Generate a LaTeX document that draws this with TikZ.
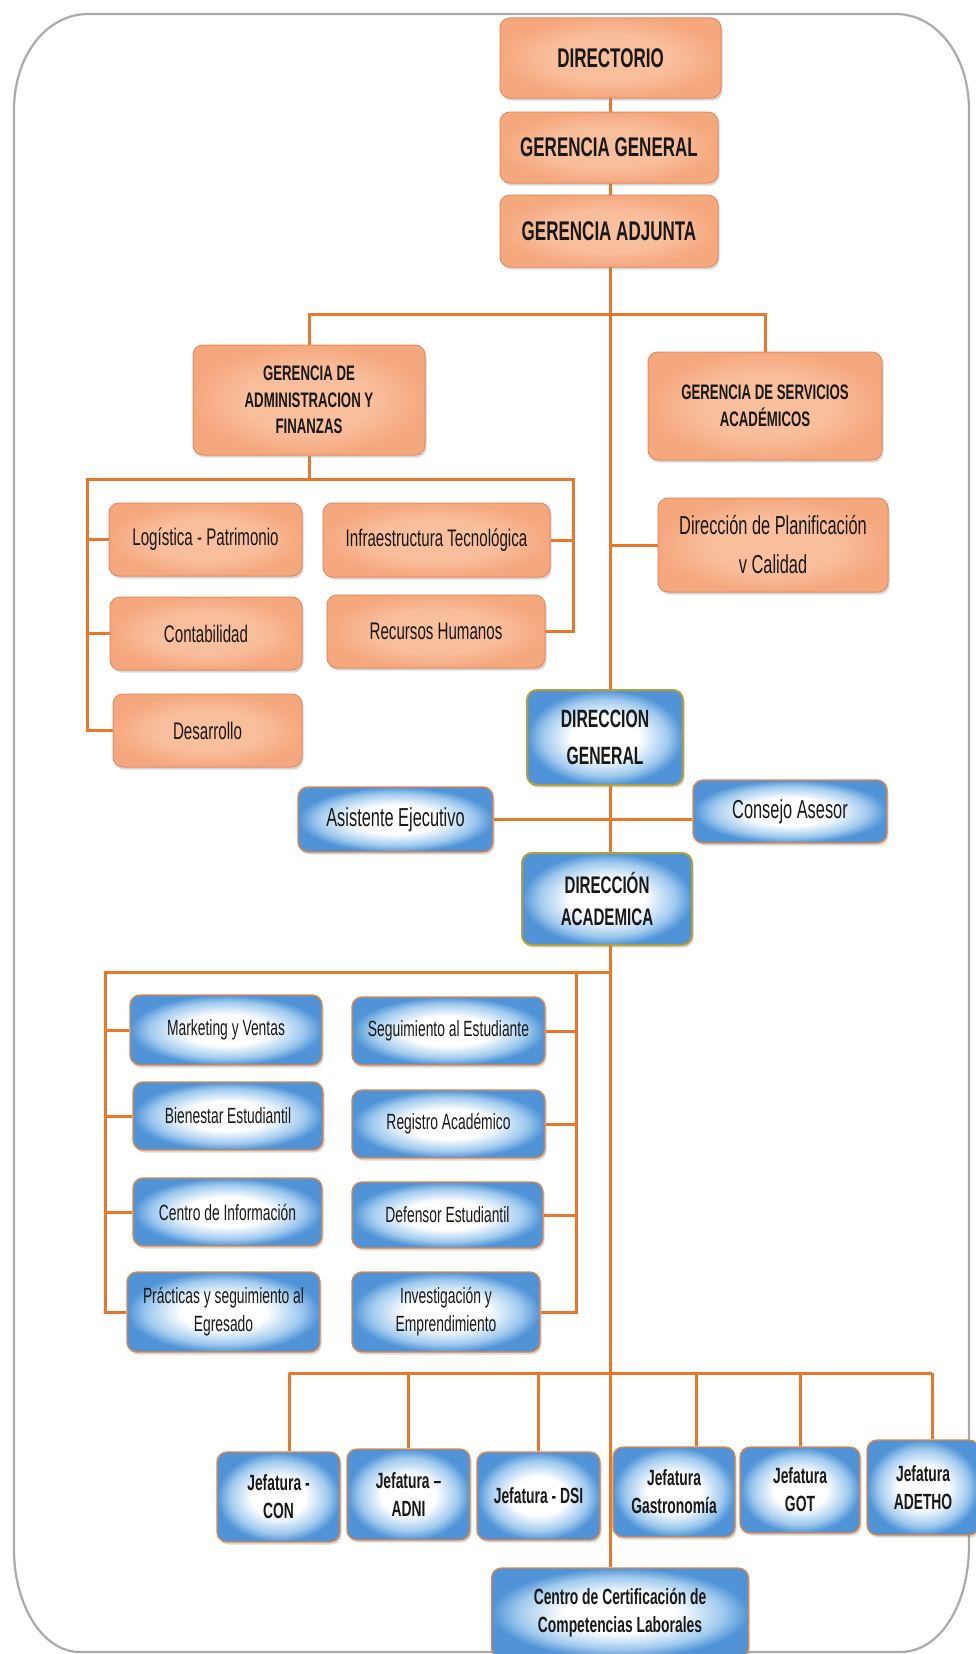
\documentclass[tikz,border=0pt]{standalone}
\usepackage{fontspec}
\setmainfont{Liberation Sans}[FakeStretch=0.63]
\usetikzlibrary{shadows,backgrounds}
\definecolor{conncol}{RGB}{234,118,40}
\definecolor{salmon}{RGB}{245,168,126}
\definecolor{salmonlt}{RGB}{249,190,156}
\definecolor{salmonbd}{RGB}{232,138,96}
\definecolor{bluedk}{RGB}{80,148,215}
\definecolor{bluemd}{RGB}{160,202,238}
\definecolor{bluebd}{RGB}{232,132,66}
\definecolor{olivebd}{RGB}{178,160,60}
\definecolor{framecol}{RGB}{170,170,170}
\definecolor{txt}{RGB}{24,24,24}
\pgfdeclareradialshading{blueshade}{\pgfpoint{0bp}{0bp}}{color(0bp)=(white); color(11bp)=(white); color(20bp)=(bluemd); color(25bp)=(bluedk); color(50bp)=(bluedk)}
\pgfdeclareradialshading{salmonshade}{\pgfpoint{0bp}{0bp}}{color(0bp)=(salmonlt); color(14bp)=(salmonlt); color(25bp)=(salmon); color(50bp)=(salmon)}
\tikzset{
  box/.style={rectangle, rounded corners=10pt, align=center, inner sep=2pt, text=txt,
    drop shadow={shadow xshift=1.5pt, shadow yshift=-2.5pt, opacity=0.3}},
  obox/.style={box, draw=salmonbd, line width=1pt, shade, shading=salmonshade},
  bbox/.style={box, draw=bluebd, line width=1.3pt, shade, shading=blueshade},
  kbox/.style={box, draw=olivebd, line width=2pt, shade, shading=blueshade},
  conn/.style={draw=conncol, line width=3pt},
  tA/.style={font=\fontsize{27}{32}\selectfont\bfseries},
  tB/.style={font=\fontsize{21}{26.5}\selectfont\bfseries},
  tC/.style={font=\fontsize{24}{28}\selectfont},
  tD/.style={font=\fontsize{26}{39}\selectfont},
  tE/.style={font=\fontsize{25}{37}\selectfont\bfseries},
  tF/.style={font=\fontsize{24}{32}\selectfont\bfseries},
  tG/.style={font=\fontsize{22}{28}\selectfont},
  tH/.style={font=\fontsize{22}{28}\selectfont\bfseries},
}
\begin{document}
\begin{tikzpicture}[x=1pt,y=-1pt]
\useasboundingbox (0,0) rectangle (975,1654);
% top group
\node[obox,tA,minimum width=221pt,minimum height=80pt] (dir) at (610.5,58) {DIRECTORIO};
\node[obox,tA,minimum width=218pt,minimum height=71pt] (gg) at (609,147.5) {GERENCIA GENERAL};
\node[obox,tA,minimum width=218pt,minimum height=72pt] (ga) at (609,231) {GERENCIA ADJUNTA};
\node[obox,tB,minimum width=232pt,minimum height=110pt] (gaf) at (309,400) {GERENCIA DE\\ADMINISTRACION Y\\FINANZAS};
\node[obox,tB,minimum width=234pt,minimum height=108pt] (gsa) at (765,406) {GERENCIA DE SERVICIOS\\ACADÉMICOS};
\node[obox,tC,minimum width=193pt,minimum height=73pt] (log) at (205.5,539.5) {Logística - Patrimonio};
\node[obox,tC,minimum width=192pt,minimum height=73pt] (cont) at (206,633.5) {Contabilidad};
\node[obox,tC,minimum width=189pt,minimum height=73pt] (des) at (207.5,730.5) {Desarrollo};
\node[obox,tC,minimum width=227pt,minimum height=74pt] (infra) at (436.5,540) {Infraestructura Tecnológica};
\node[obox,tC,minimum width=218pt,minimum height=73pt] (rh) at (436,631.5) {Recursos Humanos};
\node[obox,tD,minimum width=230pt,minimum height=94pt] (plan) at (773,545) {Dirección de Planificación\\v Calidad};
% direction
\node[kbox,tE,minimum width=156pt,minimum height=95pt] (dg) at (605,737.5) {DIRECCION\\GENERAL};
\node[bbox,tD,minimum width=195pt,minimum height=65pt] (asis) at (395.5,819.5) {Asistente Ejecutivo};
\node[bbox,tD,minimum width=194pt,minimum height=63pt] (cons) at (790,811.5) {Consejo Asesor};
\node[kbox,tF,minimum width=170pt,minimum height=92pt] (da) at (607,899) {DIRECCIÓN\\ACADEMICA};
% academic units
\node[bbox,tG,minimum width=192pt,minimum height=70pt] (mkt) at (226,1030) {Marketing y Ventas};
\node[bbox,tG,minimum width=190pt,minimum height=68pt] (bien) at (228,1116) {Bienestar Estudiantil};
\node[bbox,tG,minimum width=189pt,minimum height=68pt] (cinf) at (227.5,1212) {Centro de Información};
\node[bbox,tG,minimum width=193pt,minimum height=80pt] (prac) at (223.5,1312) {Prácticas y seguimiento al\\Egresado};
\node[bbox,tG,minimum width=193pt,minimum height=68pt] (seg) at (448.5,1031) {Seguimiento al Estudiante};
\node[bbox,tG,minimum width=193pt,minimum height=68pt] (reg) at (448.5,1124) {Registro Académico};
\node[bbox,tG,minimum width=191pt,minimum height=66pt] (def) at (447.5,1215) {Defensor Estudiantil};
\node[bbox,tG,minimum width=188pt,minimum height=80pt] (inv) at (446,1312) {Investigación y\\Emprendimiento};
% jefaturas
\node[bbox,tH,minimum width=123pt,minimum height=90pt] (con) at (278.5,1497) {Jefatura -\\CON};
\node[bbox,tH,minimum width=123pt,minimum height=91pt] (adni) at (408.5,1494.5) {Jefatura –\\ADNI};
\node[bbox,tH,minimum width=123pt,minimum height=88pt] (dsi) at (538.5,1496) {Jefatura - DSI};
\node[bbox,tH,minimum width=122pt,minimum height=90pt] (gas) at (674,1492) {Jefatura\\Gastronomía};
\node[bbox,tH,minimum width=120pt,minimum height=86pt] (got) at (800,1490) {Jefatura\\GOT};
\node[bbox,tH,minimum width=112pt,minimum height=95pt] (adetho) at (923,1487.5) {Jefatura\\ADETHO};
\node[bbox,tH,minimum width=257pt,minimum height=90pt] (ccl) at (620,1613) {Centro de Certificación de\\Competencias Laborales};

\begin{scope}[on background layer]
  \fill[white] (0,0) rectangle (975,1654);
  \draw[framecol, line width=2.2pt] (88,14) -- (896,14)
    .. controls (936,14) and (969,55) .. (969,110) -- (969,1545)
    .. controls (969,1605) and (940,1652) .. (900,1652) -- (80,1652)
    .. controls (42,1652) and (14,1604) .. (14,1550) -- (14,110)
    .. controls (14,55) and (47,14) .. cycle;
  \coordinate (tbus) at (610,314);
  \coordinate (abl) at (87,479);
  \coordinate (abr) at (573,479);
  \coordinate (dbl) at (105,972);
  \coordinate (dbr) at (576,972);
  \coordinate (jb) at (289,1373);
  \coordinate (jbe) at (932,1373);
  % trunk
  \draw[conn] (dir.center) -- (dir.center |- ccl.north);
  % gerencias
  \draw[conn] (gaf.north) |- (tbus) -| (gsa.north);
  \draw[conn] (gaf.south) -- (gaf.south |- abl);
  \draw[conn] (des.west) -| (abl) -- (abr) |- (rh.east);
  \draw[conn] (log.west) -- (log.west -| abl);
  \draw[conn] (cont.west) -- (cont.west -| abl);
  \draw[conn] (infra.east) -- (infra.east -| abr);
  \draw[conn] (plan.west) -- (plan.west -| dir.center);
  % staff
  \draw[conn] (asis.east) -- (asis.east -| cons.west);
  % academic units
  \draw[conn] (prac.west) -| (dbl) -- (dbl -| dir.center);
  \draw[conn] (dbr) |- (inv.east);
  \draw[conn] (mkt.west) -- (mkt.west -| dbl);
  \draw[conn] (bien.west) -- (bien.west -| dbl);
  \draw[conn] (cinf.west) -- (cinf.west -| dbl);
  \draw[conn] (seg.east) -- (seg.east -| dbr);
  \draw[conn] (reg.east) -- (reg.east -| dbr);
  \draw[conn] (def.east) -- (def.east -| dbr);
  % jefaturas
  \draw[conn] (jb) -- (jbe);
  \draw[conn] (jb) -- ([xshift=10.5pt]con.north);
  \draw[conn] (adni.north) -- (adni.north |- jb);
  \draw[conn] (dsi.north) -- (dsi.north |- jb);
  \draw[conn] ([xshift=22pt]gas.north) -- ([xshift=22pt]gas.north |- jb);
  \draw[conn] (got.north) -- (got.north |- jb);
  \draw[conn] (jbe) -- (jbe |- adetho.north);
\end{scope}
\end{tikzpicture}
\end{document}
